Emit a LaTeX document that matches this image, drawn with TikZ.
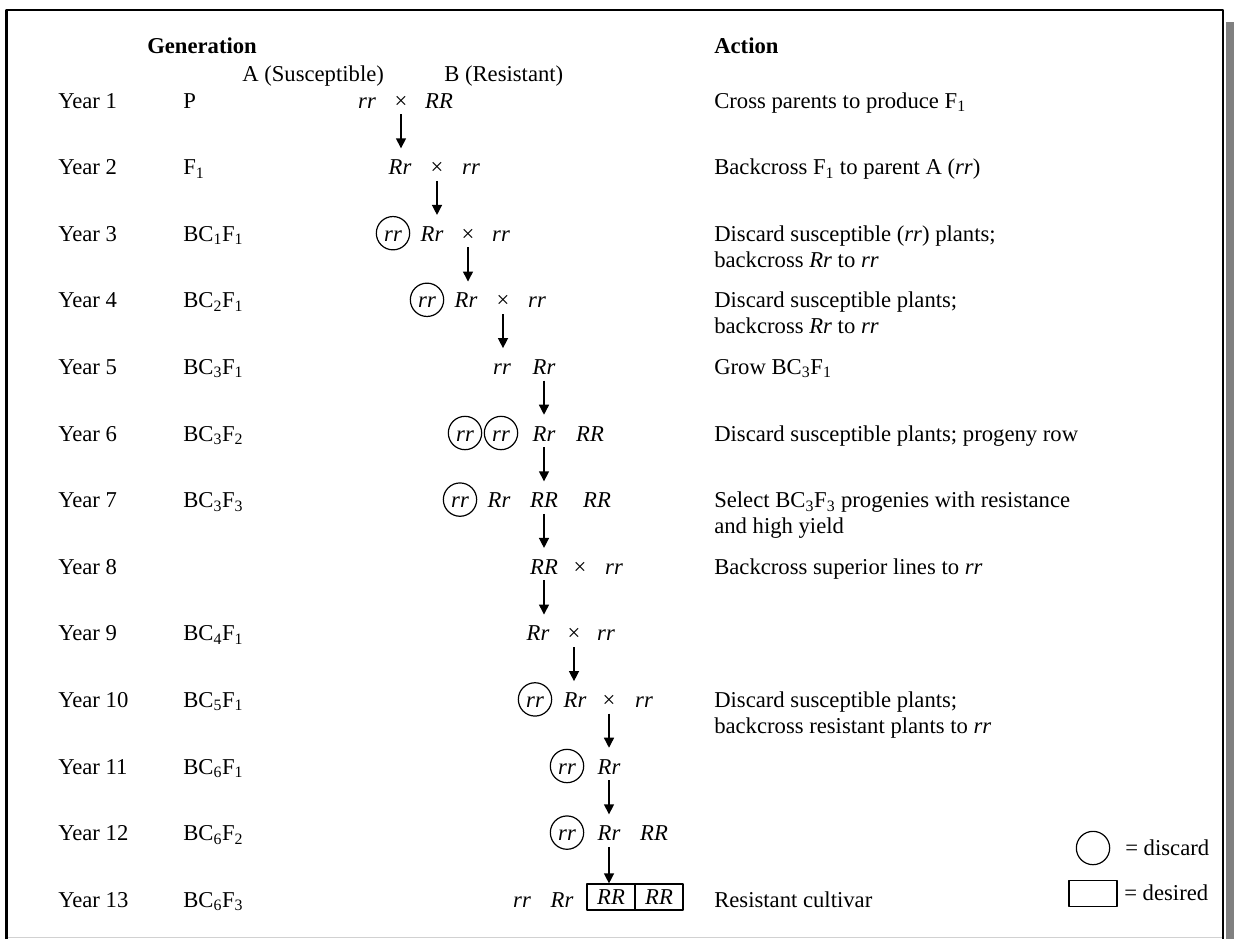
\documentclass[tikz,border=0pt]{standalone}
\usepackage{fontspec}
\setmainfont{Liberation Serif}
\usetikzlibrary{arrows.meta}

\tikzset{
  every node/.style={font=\fontsize{17pt}{19.5pt}\selectfont},
  lbl/.style={anchor=base west,inner sep=0pt},
  slot/.style={anchor=base,inner sep=0pt,text height=19.5pt,text depth=4.5pt},
  gt/.style={slot,execute at begin node=\itshape},
  discard/.style={circle,draw,line width=0.9pt,minimum size=25pt,inner sep=0pt,
    text height=12pt,text depth=0pt,anchor=base,execute at begin node=\itshape},
  desired/.style={draw,line width=0.9pt,minimum width=36pt,minimum height=19.5pt,
    inner sep=0pt,execute at begin node=\itshape},
  arr/.style={-{Triangle[length=7.5pt,width=7.5pt]},line width=1pt},
}

\begin{document}
\begin{tikzpicture}[x=0.75pt,y=-0.75pt,line join=round]
  \useasboundingbox (0,0) rectangle (1234,939);
  \fill[gray] (1225.5,22) rectangle (1234,939);
  \draw[black!18,line width=0.8pt] (6.5,937.5) -- (1223,937.5);
  \draw[line width=1.7pt] (6.5,939) -- (6.5,10) -- (1223,10) -- (1223,939);

  \node[lbl] (genhd) at (147,53) {\textbf{Generation}};
  \node[lbl] (acthd) at (714,53) {\textbf{Action}};
  \node[lbl] (parA) at (242,81) {A (Susceptible)};
  \node[lbl] (parB) at (444,81) {B (Resistant)};

  \node[lbl] (y1) at (58,108) {Year 1};
  \node[lbl] (y2) at (58,174.6) {Year 2};
  \node[lbl] (y3) at (58,241.2) {Year 3};
  \node[lbl] (y4) at (58,307.8) {Year 4};
  \node[lbl] (y5) at (58,374.4) {Year 5};
  \node[lbl] (y6) at (58,441) {Year 6};
  \node[lbl] (y7) at (58,507.6) {Year 7};
  \node[lbl] (y8) at (58,574.2) {Year 8};
  \node[lbl] (y9) at (58,640.8) {Year 9};
  \node[lbl] (y10) at (58,707.4) {Year 10};
  \node[lbl] (y11) at (58,774) {Year 11};
  \node[lbl] (y12) at (58,840.6) {Year 12};
  \node[lbl] (y13) at (58,907.2) {Year 13};

  \node[lbl] (g1) at (183,108) {P};
  \node[lbl] (g2) at (183,174.6) {F\textsubscript{1}};
  \node[lbl] (g3) at (183,241.2) {BC\textsubscript{1}F\textsubscript{1}};
  \node[lbl] (g4) at (183,307.8) {BC\textsubscript{2}F\textsubscript{1}};
  \node[lbl] (g5) at (183,374.4) {BC\textsubscript{3}F\textsubscript{1}};
  \node[lbl] (g6) at (183,441) {BC\textsubscript{3}F\textsubscript{2}};
  \node[lbl] (g7) at (183,507.6) {BC\textsubscript{3}F\textsubscript{3}};
  \node[lbl] (g9) at (183,640.8) {BC\textsubscript{4}F\textsubscript{1}};
  \node[lbl] (g10) at (183,707.4) {BC\textsubscript{5}F\textsubscript{1}};
  \node[lbl] (g11) at (183,774) {BC\textsubscript{6}F\textsubscript{1}};
  \node[lbl] (g12) at (183,840.6) {BC\textsubscript{6}F\textsubscript{2}};
  \node[lbl] (g13) at (183,907.2) {BC\textsubscript{6}F\textsubscript{3}};

  \node[lbl] (a1) at (714,108) {Cross parents to produce F\textsubscript{1}};
  \node[lbl] (a2) at (714,174.6) {Backcross F\textsubscript{1} to parent A (\textit{rr})};
  \node[lbl] (a3) at (714,241.2) {Discard susceptible (\textit{rr}) plants;};
  \node[lbl] (a3b) at (714,267.2) {backcross \textit{Rr} to \textit{rr}};
  \node[lbl] (a4) at (714,307.8) {Discard susceptible plants;};
  \node[lbl] (a4b) at (714,333.8) {backcross \textit{Rr} to \textit{rr}};
  \node[lbl] (a5) at (714,374.4) {Grow BC\textsubscript{3}F\textsubscript{1}};
  \node[lbl] (a6) at (714,441) {Discard susceptible plants; progeny row};
  \node[lbl] (a7) at (714,507.6) {Select BC\textsubscript{3}F\textsubscript{3} progenies with resistance};
  \node[lbl] (a7b) at (714,533.6) {and high yield};
  \node[lbl] (a8) at (714,574.2) {Backcross superior lines to \textit{rr}};
  \node[lbl] (a10) at (714,707.4) {Discard susceptible plants;};
  \node[lbl] (a10b) at (714,733.4) {backcross resistant plants to \textit{rr}};
  \node[lbl] (a13) at (714,907.2) {Resistant cultivar};

  \node[gt] (r1a) at (367,108) {rr};
  \node[slot] (r1x) at (401,108) {×};
  \node[gt] (r1b) at (439,108) {RR};

  \node[gt] (r2a) at (400,174.6) {Rr};
  \node[slot] (r2x) at (437,174.6) {×};
  \node[gt] (r2b) at (471,174.6) {rr};

  \node[discard] (r3c) at (393,241.2) {rr};
  \node[gt] (r3a) at (432,241.2) {Rr};
  \node[slot] (r3x) at (468,241.2) {×};
  \node[gt] (r3b) at (501,241.2) {rr};

  \node[discard] (r4c) at (427,307.8) {rr};
  \node[gt] (r4a) at (466,307.8) {Rr};
  \node[slot] (r4x) at (503,307.8) {×};
  \node[gt] (r4b) at (537,307.8) {rr};

  \node[gt] (r5a) at (502,374.4) {rr};
  \node[gt] (r5b) at (544,374.4) {Rr};

  \node[discard] (r6c) at (465,441) {rr};
  \node[discard] (r6d) at (501,441) {rr};
  \node[gt] (r6a) at (544,441) {Rr};
  \node[gt] (r6b) at (590,441) {RR};

  \node[discard] (r7c) at (460,507.6) {rr};
  \node[gt] (r7a) at (499,507.6) {Rr};
  \node[gt] (r7b) at (544,507.6) {RR};
  \node[gt] (r7d) at (597,507.6) {RR};

  \node[gt] (r8a) at (544,574.2) {RR};
  \node[slot] (r8x) at (580,574.2) {×};
  \node[gt] (r8b) at (614,574.2) {rr};

  \node[gt] (r9a) at (538,640.8) {Rr};
  \node[slot] (r9x) at (574,640.8) {×};
  \node[gt] (r9b) at (606,640.8) {rr};

  \node[discard] (r10c) at (535,707.4) {rr};
  \node[gt] (r10a) at (575,707.4) {Rr};
  \node[slot] (r10x) at (609,707.4) {×};
  \node[gt] (r10b) at (644,707.4) {rr};

  \node[discard] (r11c) at (567,774) {rr};
  \node[gt] (r11a) at (609,774) {Rr};

  \node[discard] (r12c) at (567,840.6) {rr};
  \node[gt] (r12a) at (609,840.6) {Rr};
  \node[gt] (r12b) at (654,840.6) {RR};

  \node[gt] (r13a) at (522,907.2) {rr};
  \node[gt] (r13b) at (562,907.2) {Rr};
  \node[desired] (box1) at (611,897) {RR};
  \node[desired] (box2) at (659,897) {RR};

  \draw[arr] (r1x.south) -- (r1x.south |- r2a.north);
  \draw[arr] (r2x.south) -- (r2x.south |- r3a.north);
  \draw[arr] (r3x.south) -- (r3x.south |- r4a.north);
  \draw[arr] (r4x.south) -- (r4x.south |- r5a.north);
  \draw[arr] (r5b.south) -- (r5b.south |- r6a.north);
  \draw[arr] (r6a.south) -- (r6a.south |- r7b.north);
  \draw[arr] (r7b.south) -- (r7b.south |- r8a.north);
  \draw[arr] (r8a.south) -- (r8a.south |- r9a.north);
  \draw[arr] (r9x.south) -- (r9x.south |- r10a.north);
  \draw[arr] (r10x.south) -- (r10x.south |- r11a.north);
  \draw[arr] (r11a.south) -- (r11a.south |- r12a.north);
  \draw[arr] (r12a.south) -- (r12a.south |- box1.north);

  \node[discard,anchor=center] (keyc) at (1093,848) {};
  \node[lbl] (keyct) at (1125,855) {= discard};
  \node[desired,minimum height=20pt] (keyr) at (1093,893.5) {};
  \node[lbl] (keyrt) at (1124,900) {= desired};
\end{tikzpicture}
\end{document}
